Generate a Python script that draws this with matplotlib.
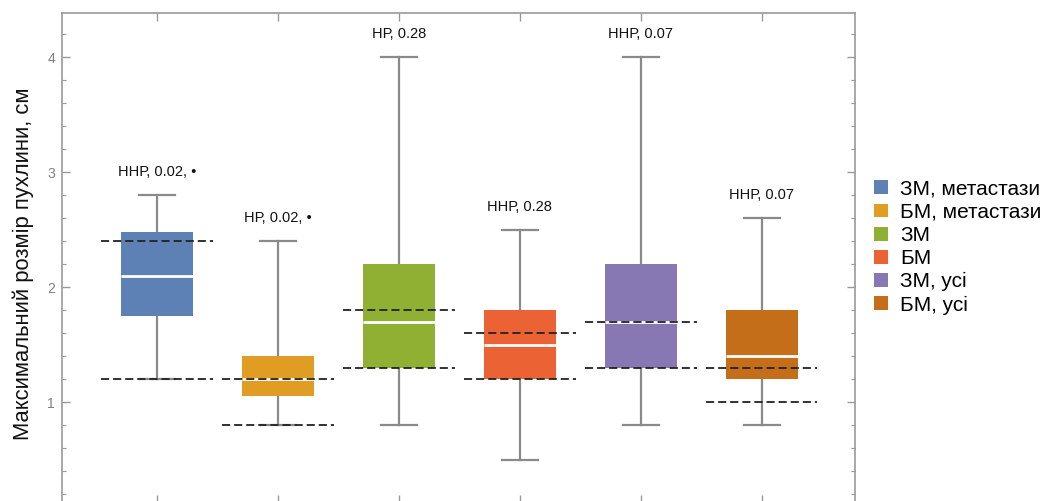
import numpy as np
import matplotlib
matplotlib.use("Agg")
import matplotlib.pyplot as plt
from matplotlib.patches import Patch
from matplotlib.ticker import MultipleLocator

plt.rcParams['font.family'] = ['Liberation Sans', 'DejaVu Sans']

# групи
groups = ["ЗМ, метастази", "БМ, метастази", "ЗМ", "БМ", "ЗМ, усі", "БМ, усі"]
colors = ["#5E81B5", "#E19C24", "#8FB032", "#EB6235", "#8778B3", "#C56E1A"]

# статистики (см)
whis_lo = [1.2, 0.8, 0.8, 0.5, 0.8, 0.8]
q1 = [1.75, 1.05, 1.3, 1.2, 1.3, 1.2]
median = [2.1, 1.2, 1.7, 1.5, 1.7, 1.4]
q3 = [2.48, 1.4, 2.2, 1.8, 2.2, 1.8]
whis_hi = [2.8, 2.4, 4.0, 2.5, 4.0, 2.6]

# межі (пунктир)
ref_lo = [1.2, 0.8, 1.3, 1.2, 1.3, 1.0]
ref_hi = [2.4, 1.2, 1.8, 1.6, 1.7, 1.3]

labels = ["ННР, 0.02, •", "НР, 0.02, •", "НР, 0.28", "ННР, 0.28", "ННР, 0.07", "ННР, 0.07"]

fig = plt.figure(figsize=(10.47, 5.01), dpi=100)
ax = fig.add_axes([0.0592, -0.004, 0.7574, 0.978])

pos = np.arange(1, len(groups) + 1)
stats = []
for i in range(len(groups)):
    stats.append({"med": median[i], "q1": q1[i], "q3": q3[i],
                  "whislo": whis_lo[i], "whishi": whis_hi[i], "fliers": []})

bp = ax.bxp(stats, positions=pos, widths=0.6, patch_artist=True,
            showfliers=False, capwidths=0.3,
            boxprops=dict(edgecolor="none", linewidth=0),
            whiskerprops=dict(color="#8a8a8a", linewidth=1.6),
            capprops=dict(color="#8a8a8a", linewidth=1.6),
            medianprops=dict(color="white", linewidth=2))
for patch, c in zip(bp["boxes"], colors):
    patch.set_facecolor(c)
    patch.set_zorder(3)
for m in bp["medians"]:
    m.set_zorder(4)

# пунктирні лінії
for i, p in enumerate(pos):
    for v in (ref_lo[i], ref_hi[i]):
        ax.plot([p - 0.46, p + 0.46], [v, v], color="#222222", lw=1.3,
                linestyle=(0, (4.5, 2.2)), zorder=5)
    ax.text(p, whis_hi[i] + 0.2, labels[i], ha="center", va="center",
            fontsize=10.5, color="#111111")

ax.set_xlim(0.215, 6.77)
ax.set_ylim(0.122, 4.383)
ax.set_xticks(pos)
ax.set_xticklabels([])
ax.yaxis.set_major_locator(MultipleLocator(1))
ax.yaxis.set_minor_locator(MultipleLocator(0.2))
ax.tick_params(axis="both", which="both", direction="in", colors="#999999",
               top=True, right=True, labelcolor="#808080", labelsize=10)
ax.tick_params(which="major", length=6, width=1)
ax.tick_params(which="minor", length=3, width=0.8)
ax.tick_params(axis="y", pad=5)
for s in ax.spines.values():
    s.set_color("#999999")
    s.set_linewidth(1.2)

fig.text(0.022, 0.473, "Максимальний розмір пухлини, см", rotation=90,
         ha="center", va="center", fontsize=15.8, color="#111111")

handles = [Patch(facecolor=c, edgecolor="none") for c in colors]
fig.legend(handles, groups, loc="upper left", bbox_to_anchor=(0.827, 0.658),
           frameon=False, fontsize=15, handlelength=0.65, handleheight=0.65,
           handletextpad=0.6, labelspacing=0.2, borderaxespad=0)

fig.savefig("out.png", dpi=100)
